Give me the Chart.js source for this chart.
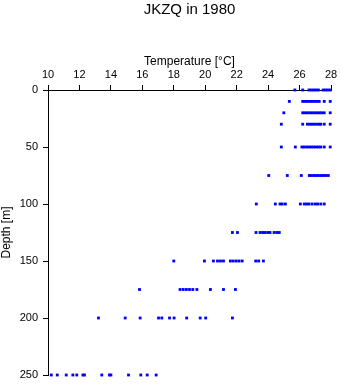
<!DOCTYPE html>
<html>
<head>
<meta charset="utf-8">
<script src="https://cdn.jsdelivr.net/npm/chart.js@4/dist/chart.umd.min.js"></script>
<style>
html,body{margin:0;padding:0;background:#fff;}
#wrap{width:341px;height:384px;}
</style>
</head>
<body>
<div id="wrap"><canvas id="c" width="341" height="384"></canvas></div>
<script>
const chartTitle = "JKZQ in 1980";
const xTitle = "Temperature [°C]";
const yTitle = "Depth [m]";

const depthLevels = [0, 10, 20, 30, 50, 75, 100, 125, 150, 175, 200, 250];

const temp000 = [25.7, 26.2, 26.6, 26.75, 26.9, 27.05, 27.2, 27.5, 27.65, 27.8, 27.95];
const temp010 = [25.35, 26.2, 26.35, 26.5, 26.65, 26.8, 26.95, 27.1, 27.25, 27.57, 27.95];
const temp020 = [25.0, 26.2, 26.35, 26.5, 26.65, 26.8, 26.95, 27.1, 27.25, 27.4, 27.57, 27.95];
const temp030 = [24.84, 26.2, 26.5, 26.65, 26.8, 26.95, 27.1, 27.25, 27.35, 27.57, 27.95];
const temp050 = [24.84, 25.73, 26.15, 26.3, 26.45, 26.6, 26.75, 26.9, 27.05, 27.2, 27.35, 27.57, 27.95];
const temp075 = [24.04, 25.22, 26.11, 26.62, 26.75, 26.9, 27.05, 27.2, 27.35, 27.51, 27.65, 27.83];
const temp100 = [23.25, 24.46, 24.76, 24.9, 25.1, 26.05, 26.3, 26.45, 26.6, 26.8, 27.0, 27.15, 27.35, 27.57];
const temp125 = [21.73, 22.05, 23.23, 23.49, 23.65, 23.8, 23.97, 24.12, 24.38, 24.55, 24.71];
const temp150 = [18.0, 19.95, 20.52, 20.78, 20.97, 21.16, 21.6, 21.78, 21.97, 22.15, 22.35, 23.21, 23.4, 23.7];
const temp175 = [15.82, 18.4, 18.6, 18.8, 19.0, 19.21, 19.47, 20.33, 21.16, 21.92];
const temp200 = [13.21, 14.91, 15.86, 17.03, 17.24, 17.73, 18.02, 18.82, 19.68, 20.03, 21.73];
const temp250 = [10.21, 10.59, 11.16, 11.58, 11.83, 12.22, 12.32, 13.42, 13.91, 14.0, 15.12, 15.9, 16.31, 16.88];

const tempsByLevel = [temp000, temp010, temp020, temp030, temp050, temp075, temp100, temp125, temp150, temp175, temp200, temp250];

const points = [];
depthLevels.forEach((d, i) => {
  tempsByLevel[i].forEach(t => points.push({x: t, y: d}));
});

const FONT = "'Liberation Sans', Arial, Helvetica, sans-serif";

new Chart(document.getElementById('c'), {
  type: 'scatter',
  data: {
    datasets: [{
      data: points,
      pointStyle: 'rect',
      pointRadius: 2,
      pointHoverRadius: 2,
      borderWidth: 0,
      backgroundColor: '#0000ff',
      borderColor: '#0000ff',
      clip: false
    }]
  },
  options: {
    responsive: false,
    animation: false,
    devicePixelRatio: 1,
    layout: { padding: { left: 0, right: 10, top: 0, bottom: 9 } },
    plugins: {
      legend: { display: false },
      tooltip: { enabled: false },
      title: {
        display: true,
        fullSize: false,
        text: chartTitle,
        color: '#000',
        font: { family: FONT, size: 15, weight: 'normal', lineHeight: 1.2 },
        padding: { top: 1, bottom: 0 }
      }
    },
    scales: {
      x: {
        type: 'linear',
        position: 'top',
        min: 10,
        max: 28,
        afterFit: s => { s.height = 71; s.paddingLeft = 0; s.paddingRight = 0; },
        ticks: {
          stepSize: 2,
          color: '#000',
          padding: 3,
          maxRotation: 0,
          font: { family: FONT, size: 11 }
        },
        grid: { drawOnChartArea: false, drawTicks: true, tickLength: 5, color: '#000', lineWidth: 1 },
        border: { display: true, color: '#000', width: 1 },
        title: {
          display: true,
          text: xTitle,
          color: '#000',
          font: { family: FONT, size: 12, lineHeight: 1.2 },
          padding: { top: 35.8, bottom: 0 }
        }
      },
      y: {
        type: 'linear',
        position: 'left',
        reverse: true,
        min: 0,
        max: 250,
        afterFit: s => { s.width = 48; s.paddingTop = 0; s.paddingBottom = 0; },
        ticks: {
          stepSize: 50,
          color: '#000',
          padding: 5,
          font: { family: FONT, size: 11 }
        },
        grid: { drawOnChartArea: false, drawTicks: true, tickLength: 5, color: '#000', lineWidth: 1 },
        border: { display: true, color: '#000', width: 1 },
        title: {
          display: true,
          text: yTitle,
          color: '#000',
          font: { family: FONT, size: 12, lineHeight: 1.2 },
          padding: { top: -1, bottom: 0 }
        }
      }
    }
  }
});
</script>
</body>
</html>
